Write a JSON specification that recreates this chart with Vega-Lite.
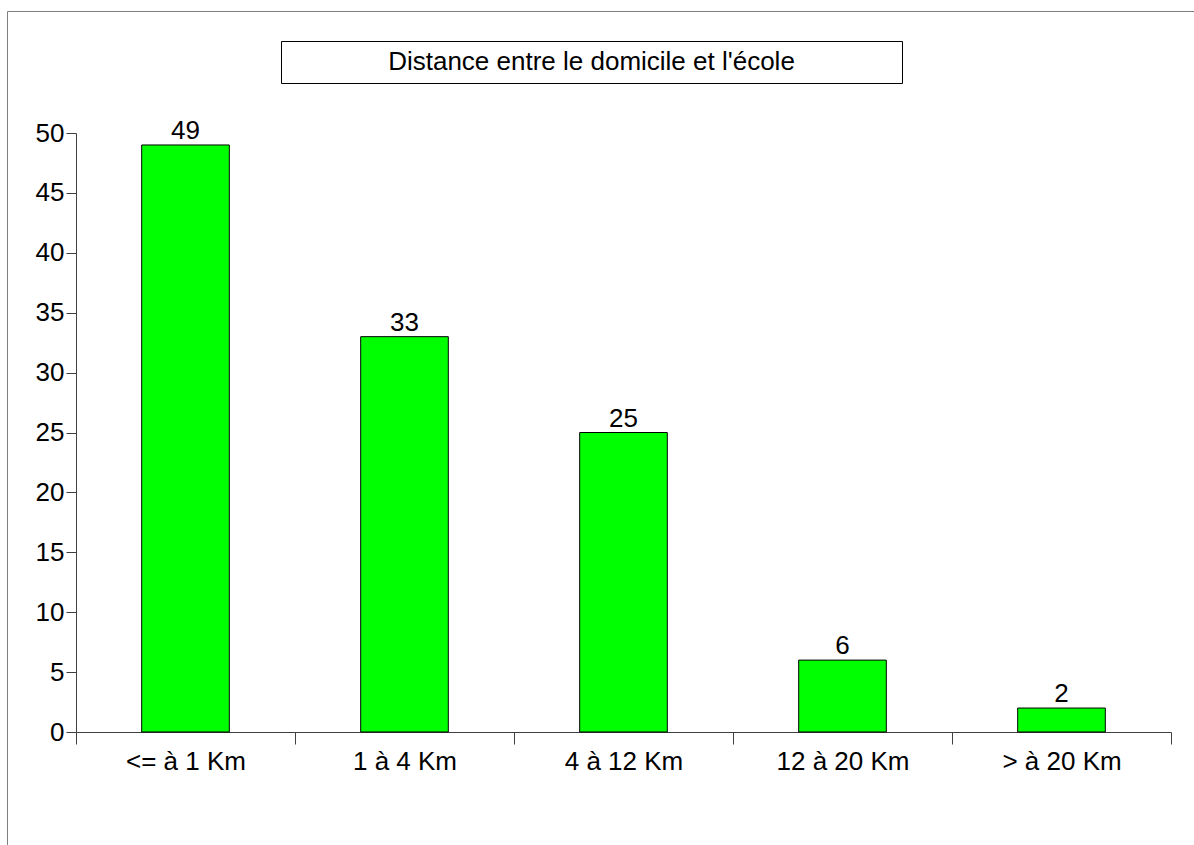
{
  "$schema": "https://vega.github.io/schema/vega-lite/v6.json",
  "autosize": {"type": "none"},
  "padding": {"left": 281, "top": 41, "right": 292, "bottom": 762},
  "width": 621,
  "height": 42,
  "background": "white",
  "config": {
    "font": "Liberation Sans",
    "view": {"stroke": "black", "strokeWidth": 1}
  },
  "data": {
    "values": [
      {"distance": "<= à 1 Km", "effectif": 49},
      {"distance": "1 à 4 Km", "effectif": 33},
      {"distance": "4 à 12 Km", "effectif": 25},
      {"distance": "12 à 20 Km", "effectif": 6},
      {"distance": "> à 20 Km", "effectif": 2}
    ]
  },
  "resolve": {
    "scale": {"x": "independent", "y": "independent"},
    "axis": {"x": "independent", "y": "independent"}
  },
  "layer": [
    {
      "encoding": {
        "x": {
          "field": "distance",
          "type": "nominal",
          "sort": null,
          "scale": {"range": [-205, 890], "paddingInner": 0, "paddingOuter": 0},
          "axis": {
            "orient": "bottom",
            "title": null,
            "offset": 649,
            "tickBand": "extent",
            "tickSize": 12,
            "labelFontSize": 26,
            "labelColor": "black",
            "labelPadding": 4,
            "labelAngle": 0,
            "labelOverlap": false,
            "domainColor": "#404040",
            "tickColor": "#404040",
            "grid": false
          }
        },
        "y": {
          "field": "effectif",
          "type": "quantitative",
          "scale": {"domain": [0, 50], "range": [691, 92], "nice": false},
          "axis": {
            "orient": "left",
            "title": null,
            "offset": 205,
            "values": [0, 5, 10, 15, 20, 25, 30, 35, 40, 45, 50],
            "tickSize": 10,
            "labelFontSize": 26,
            "labelColor": "black",
            "labelPadding": 2,
            "domainColor": "#404040",
            "tickColor": "#404040",
            "grid": false
          }
        }
      },
      "layer": [
        {
          "mark": {"type": "bar", "fill": "#00ff00", "stroke": "black", "strokeWidth": 1, "width": {"band": 0.4}}
        },
        {
          "mark": {"type": "text", "fontSize": 26, "color": "black", "baseline": "alphabetic", "dy": -6},
          "encoding": {"text": {"field": "effectif", "type": "quantitative"}}
        }
      ]
    },
    {
      "mark": {"type": "point", "opacity": 0},
      "encoding": {
        "x": {
          "field": "effectif",
          "type": "quantitative",
          "scale": {"domain": [0, 50], "range": [-274, 1019], "nice": false, "zero": false},
          "axis": {
            "orient": "top",
            "offset": 30,
            "title": null,
            "ticks": false,
            "labels": false,
            "grid": false,
            "domainColor": "#808080"
          }
        },
        "y": {
          "field": "effectif",
          "type": "quantitative",
          "scale": {"domain": [0, 50], "range": [859, -30], "nice": false, "zero": false},
          "axis": {
            "orient": "left",
            "offset": 274,
            "title": null,
            "ticks": false,
            "labels": false,
            "grid": false,
            "domainColor": "#808080"
          }
        }
      }
    },
    {
      "data": {"values": [{"titre": "Distance entre le domicile et l'école"}]},
      "mark": {"type": "text", "fontSize": 26, "color": "black", "baseline": "middle", "align": "center"},
      "encoding": {"text": {"field": "titre", "type": "nominal"}}
    }
  ]
}
